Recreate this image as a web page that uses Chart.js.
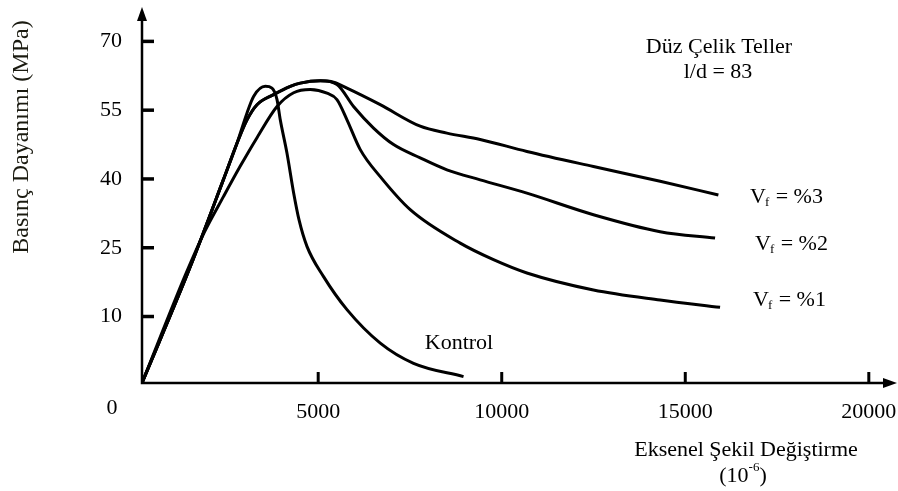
<!DOCTYPE html>
<html>
<head>
<meta charset="utf-8">
<script src="https://cdn.jsdelivr.net/npm/chart.js@4.4.1/dist/chart.umd.min.js"></script>
<style>
  html, body { margin: 0; padding: 0; background: #fff; }
  #wrap { width: 898px; height: 491px; position: relative; }
</style>
</head>
<body>
<div id="wrap"><canvas id="strainChart"></canvas></div>
<script>
// axial strain (10^-6) and compressive strength (MPa)
const kontrolX = [200, 1517, 2415, 2788, 3061, 3240, 3559, 3741, 3878, 3967, 4150, 4330, 4480, 4694, 5146, 5784, 6691, 7597, 8959];
const kontrolY = [-4.5, 20.9, 39.8, 47.8, 54.4, 58.0, 60.2, 59.8, 57.3, 52.9, 45.6, 37.0, 31.0, 25.3, 18.7, 11.5, 4.2, -0.2, -3.1];

const vf1X = [200, 1400, 1900, 2423, 2878, 3333, 3878, 4330, 4784, 5239, 5511, 5784, 6146, 6690, 7507, 8869, 9775, 10685, 12498, 14315, 15948];
const vf1Y = [-4.5, 19.4, 28.4, 36.2, 42.8, 49.0, 55.8, 58.8, 59.5, 58.7, 57.3, 52.9, 46.4, 40.5, 33.3, 26.0, 22.4, 19.5, 15.8, 13.6, 12.0];

const vf2X = [200, 1517, 2415, 2788, 3061, 3333, 3785, 4240, 4512, 5057, 5511, 5963, 6508, 7053, 7779, 8506, 9413, 10685, 12498, 14315, 15812];
const vf2Y = [-4.5, 20.9, 39.8, 47.8, 52.9, 56.2, 58.4, 60.2, 60.9, 61.4, 60.6, 55.8, 51.1, 47.5, 44.6, 42.0, 39.8, 36.9, 32.2, 28.5, 27.1];

const vf3X = [200, 1517, 2415, 2788, 3061, 3333, 3785, 4240, 4512, 5057, 5419, 5784, 6690, 7779, 8506, 9413, 10685, 12498, 14315, 15902];
const vf3Y = [-4.5, 20.9, 39.8, 47.8, 52.9, 56.2, 58.4, 60.2, 60.9, 61.4, 61.1, 59.8, 56.2, 51.5, 50.0, 48.6, 46.0, 42.7, 39.5, 36.5];

const yTickValues = [10, 25, 40, 55, 70];
const xTickValues = [5000, 10000, 15000, 20000];

const serif = '"Liberation Serif", "Times New Roman", serif';

const toPoints = (xArr, yArr) => xArr.map((x, i) => ({ x: x, y: yArr[i] }));

const makeCurve = (label, xArr, yArr) => ({
    label: label,
    data: toPoints(xArr, yArr),
    borderColor: '#000',
    borderWidth: 3,
    pointRadius: 0,
    fill: false,
    cubicInterpolationMode: 'monotone',
});

// keep the plot box exactly where the figure has it
const noScalePadding = (scale) => {
    scale.paddingTop = 0;
    scale.paddingBottom = 0;
    scale.paddingLeft = 0;
    scale.paddingRight = 0;
};

// axes with arrows, inner tick marks and the free texts of the figure
const axesAndNotes = {
    id: 'axesAndNotes',
    afterDraw(chart) {
        const ctx = chart.ctx;
        const { left, right, top, bottom } = chart.chartArea;
        const xs = chart.scales.x;
        const ys = chart.scales.y;
        ctx.save();
        ctx.strokeStyle = '#000';
        ctx.fillStyle = '#000';
        ctx.lineWidth = 2.5;
        ctx.beginPath();
        ctx.moveTo(left, top + 10);
        ctx.lineTo(left, bottom);
        ctx.lineTo(right - 10, bottom);
        ctx.stroke();
        // arrow heads
        ctx.beginPath();
        ctx.moveTo(left, top);
        ctx.lineTo(left - 5, top + 14);
        ctx.lineTo(left + 5, top + 14);
        ctx.closePath();
        ctx.fill();
        ctx.beginPath();
        ctx.moveTo(right, bottom);
        ctx.lineTo(right - 14, bottom - 5);
        ctx.lineTo(right - 14, bottom + 5);
        ctx.closePath();
        ctx.fill();
        // tick marks pointing inward
        ctx.lineWidth = 3.5;
        yTickValues.forEach(v => {
            const py = ys.getPixelForValue(v);
            ctx.beginPath();
            ctx.moveTo(left + 1, py);
            ctx.lineTo(left + 12, py);
            ctx.stroke();
        });
        ctx.lineWidth = 3;
        xTickValues.forEach(v => {
            const px = xs.getPixelForValue(v);
            ctx.beginPath();
            ctx.moveTo(px, bottom);
            ctx.lineTo(px, bottom - 11);
            ctx.stroke();
        });

        ctx.textBaseline = 'middle';
        ctx.textAlign = 'center';
        ctx.font = '22px ' + serif;
        ctx.fillText('0', 112, 408);
        ctx.fillText('Düz Çelik Teller', 719, 47);
        ctx.fillText('l/d = 83', 718, 72);
        ctx.fillText('Kontrol', 459, 343);
        ctx.fillText('Eksenel Şekil Değiştirme', 746, 450);

        // (10^-6)
        ctx.textAlign = 'left';
        const a = ctx.measureText('(10').width;
        ctx.font = '13px ' + serif;
        const b = ctx.measureText('-6').width;
        ctx.font = '22px ' + serif;
        const c = ctx.measureText(')').width;
        let sx = 743 - (a + b + c) / 2;
        ctx.fillText('(10', sx, 476);
        ctx.font = '13px ' + serif;
        ctx.fillText('-6', sx + a, 468);
        ctx.font = '22px ' + serif;
        ctx.fillText(')', sx + a + b, 476);

        // V_f labels
        const vfLabel = (txt, x, y) => {
            ctx.font = '22px ' + serif;
            ctx.fillText('V', x, y);
            const w = ctx.measureText('V').width;
            ctx.font = '13px ' + serif;
            ctx.fillText('f', x + w - 1, y + 6);
            const fw = ctx.measureText('f').width;
            ctx.font = '22px ' + serif;
            ctx.fillText(' = ' + txt, x + w + fw, y);
        };
        vfLabel('%3', 750, 197);
        vfLabel('%2', 755, 244);
        vfLabel('%1', 753, 300);

        // y axis title
        ctx.translate(22, 137);
        ctx.rotate(-Math.PI / 2);
        ctx.textAlign = 'center';
        ctx.font = '24px ' + serif;
        ctx.fillStyle = '#1a1a10';
        ctx.fillText('Basınç Dayanımı (MPa)', 0, 0);
        ctx.restore();
    }
};

new Chart(document.getElementById('strainChart'), {
    type: 'line',
    data: {
        datasets: [
            makeCurve('Kontrol', kontrolX, kontrolY),
            makeCurve('Vf = %1', vf1X, vf1Y),
            makeCurve('Vf = %2', vf2X, vf2Y),
            makeCurve('Vf = %3', vf3X, vf3Y),
        ]
    },
    options: {
        responsive: true,
        maintainAspectRatio: false,
        animation: false,
        layout: { padding: { top: 7, right: 1, left: 0, bottom: 0 } },
        scales: {
            x: {
                type: 'linear',
                min: 200,
                max: 20768,
                afterBuildTicks: (scale) => { scale.ticks = xTickValues.map(v => ({ value: v })); },
                afterFit: (scale) => { scale.height = 108; noScalePadding(scale); },
                grid: { display: false, drawTicks: false },
                border: { display: false },
                ticks: {
                    color: '#000',
                    padding: 16,
                    maxRotation: 0,
                    autoSkip: false,
                    font: { family: serif, size: 22 },
                    callback: (value) => String(value),
                }
            },
            y: {
                type: 'linear',
                min: -4.5,
                max: 77.5,
                afterBuildTicks: (scale) => { scale.ticks = yTickValues.map(v => ({ value: v })); },
                afterFit: (scale) => { scale.width = 142; noScalePadding(scale); },
                grid: { display: false, drawTicks: false },
                border: { display: false },
                ticks: {
                    color: '#000',
                    padding: 20,
                    font: { family: serif, size: 22 },
                    callback: (value) => String(value),
                }
            }
        },
        plugins: {
            legend: { display: false },
            tooltip: { enabled: false },
            title: { display: false }
        }
    },
    plugins: [axesAndNotes]
});
</script>
</body>
</html>
